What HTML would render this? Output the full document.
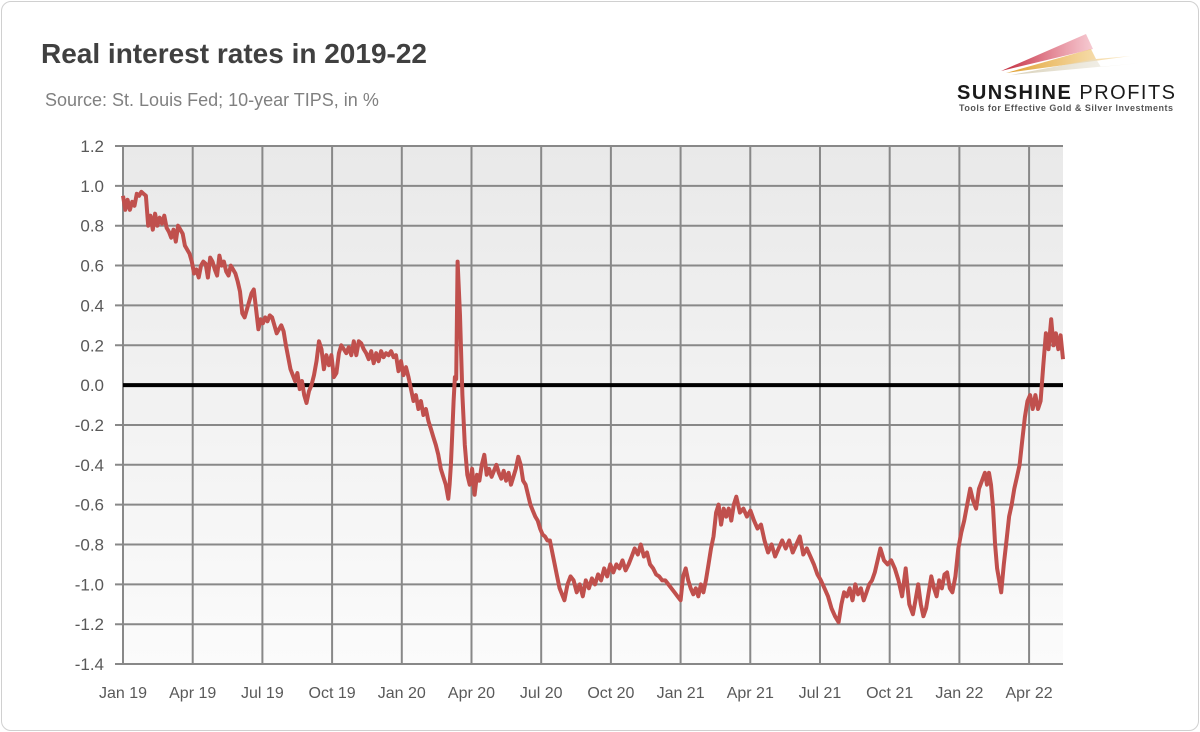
<!DOCTYPE html>
<html><head><meta charset="utf-8"><style>
body{margin:0;background:#fff;}
#card{position:absolute;left:1px;top:1px;width:1196px;height:728px;border:1px solid #d0d0d0;border-radius:10px;background:#fff;overflow:hidden;}
svg text{font-family:"Liberation Sans",sans-serif;}
</style></head><body>
<div id="card">
<svg id="chart" width="1200" height="732" style="position:absolute;left:-1px;top:-1px">
<defs><linearGradient id="bg" x1="0" y1="0" x2="0" y2="1"><stop offset="0" stop-color="#e9e9e9"/><stop offset="1" stop-color="#fbfbfb"/></linearGradient>
<linearGradient id="r1" x1="0" x2="1"><stop offset="0" stop-color="#c0283a"/><stop offset="1" stop-color="#e0506a" stop-opacity="0.3"/></linearGradient>
<linearGradient id="r2" x1="0" x2="1"><stop offset="0" stop-color="#e0a030"/><stop offset="1" stop-color="#f0c060" stop-opacity="0.3"/></linearGradient>
<linearGradient id="r3" x1="0" x2="1"><stop offset="0" stop-color="#d8d0b8"/><stop offset="1" stop-color="#e8e4d8" stop-opacity="0.3"/></linearGradient></defs>
<text x="40" y="62" font-size="28" font-weight="bold" fill="#404040">Real interest rates in 2019-22</text>
<text x="44" y="105" font-size="18" fill="#808080">Source: St. Louis Fed; 10-year TIPS, in %</text>
<g>
<polygon points="1000,70 1085,33 1092,48" fill="url(#r1)"/>
<polygon points="1005,72 1090,48 1095,58 1130,55" fill="url(#r2)"/>
<polygon points="1010,74 1095,58 1100,66 1140,62" fill="url(#r3)"/>
<text x="956" y="98" font-size="20" font-weight="bold" fill="#1a1a1a" textLength="218">SUNSHINE <tspan font-weight="normal">PROFITS</tspan></text>
<text x="958" y="110" font-size="9" font-weight="bold" fill="#555" textLength="214">Tools for Effective Gold &amp; Silver Investments</text>
</g>
<rect x="122" y="145" width="940" height="518" fill="url(#bg)"/>
<g id="grid"></g><g id="axes"></g><g id="series"></g>
</svg></div>
<script>
const yTicks = [1.2,1.0,0.8,0.6,0.4,0.2,0.0,-0.2,-0.4,-0.6,-0.8,-1.0,-1.2,-1.4];
const xTickLabels = ["Jan 19","Apr 19","Jul 19","Oct 19","Jan 20","Apr 20","Jul 20","Oct 20","Jan 21","Apr 21","Jul 21","Oct 21","Jan 22","Apr 22"];
const xTickMonths = [0,3,6,9,12,15,18,21,24,27,30,33,36,39];
const anchorIdx = [0,80,137,144,188,226,248,277,292,301,316,327,335,354,359];
const anchorMonths = [0,7.9,14.0,14.4,19.0,24.0,26.4,30.8,32.6,34.0,35.7,37.1,37.8,39.95,40.46];
const values = [
.95,.88,.93,.88,.92,.90,.96,.95,.97,.96,.95,
.80,.85,.78,.86,.80,.84,.81,.85,.79,.77,.74,.78,.72,.80,.78,.76,.70,.68,.66,.62,.56,.58,.54,.60,.62,.61,.54,.64,.62,.58,.55,.65,.60,.62,.57,.55,.60,.58,.56,.52,.47,.36,.34,.38,.42,.46,.48,.38,.28,.33,.31,.34,.32,.35,.34,.30,.26,.28,.30,.27,.20,.14,.08,.05,.02,.06,-.02,.02,-.05,-.09,
-.03,0,.05,.12,.22,.18,.08,.15,.10,.15,.04,.06,.16,.20,.18,.16,.19,.15,.22,.15,.22,.21,.18,.16,.13,.17,.11,.16,.12,.17,.14,.16,.15,.17,.14,.15,.07,.12,.05,.09,.04,-.02,-.08,-.05,-.12,-.08,-.15,-.12,-.18,-.22,-.26,-.30,-.35,-.42,-.46,-.50,-.57,
-.50,-.40,-.25,-.08,.04,.03,.62,.35,
-.05,-.30,-.45,-.50,-.42,-.55,-.45,-.48,-.40,-.35,-.45,-.42,-.46,-.43,-.40,-.44,-.47,-.43,-.48,-.44,-.50,-.46,-.42,-.36,-.40,-.48,-.50,-.55,-.60,-.63,-.66,-.68,-.72,-.75,-.76,-.78,-.78,-.84,-.90,-.96,-1.02,-1.05,-1.08,
-1.00,-.96,-.98,-1.04,-1.00,-1.06,-.98,-1.02,-.97,-1.00,-.95,-.98,-.92,-.96,-.90,-.94,-.90,-.92,-.88,-.93,-.90,-.86,-.82,-.85,-.80,-.86,-.84,-.90,-.92,-.95,-.96,-.98,-.98,-1.00,-1.02,-1.04,-1.06,-1.08,
-.96,-.92,-.98,-1.02,-1.05,-1.02,-1.06,-1.00,-1.04,-.98,-.90,-.82,-.76,-.64,-.60,-.70,-.62,-.66,-.62,-.68,-.60,-.56,
-.64,-.62,-.66,-.63,-.68,-.72,-.70,-.78,-.84,-.80,-.86,-.82,-.78,-.82,-.78,-.84,-.80,-.76,-.85,-.82,-.86,-.90,-.95,-.98,-1.02,-1.06,-1.12,-1.16,-1.19,
-1.10,-1.04,-1.06,-1.02,-1.08,-1.00,-1.05,-1.02,-1.08,-1.04,-1.00,-.98,-.94,-.88,-.82,
-.88,-.90,-.88,-.92,-.98,-1.06,-.92,-1.10,-1.15,
-1.08,-1.00,-1.10,-1.16,-1.12,-1.04,-.96,-1.02,-1.06,-.98,-1.02,-.95,-.94,-1.02,-1.04,
-.96,-.82,-.74,-.68,-.60,-.52,-.58,-.62,-.52,-.48,-.44,
-.50,-.44,-.50,-.62,-.80,-.92,-.98,-1.04,
-.90,-.78,-.66,-.60,-.52,-.46,-.40,-.28,-.16,-.08,-.05,-.12,-.05,-.12,-.08,.10,.26,.18,.33,
.20,.26,.18,.25,.13];
const X0=122,X1=1062,MMAX=40.46,YTOP=145,VTOP=1.2,PXPER=199.25;
const xs=m=>X0+(X1-X0)*m/MMAX, ys=v=>YTOP+(VTOP-v)*PXPER;
function monthAt(i){for(let k=0;k<anchorIdx.length-1;k++){const a=anchorIdx[k],b=anchorIdx[k+1];if(i<=b||k===anchorIdx.length-2){return anchorMonths[k]+(anchorMonths[k+1]-anchorMonths[k])*(i-a)/(b-a);}}}
const NS="http://www.w3.org/2000/svg";
function mk(t,a,p){const e=document.createElementNS(NS,t);for(const k in a)e.setAttribute(k,a[k]);p.appendChild(e);return e;}
const grid=document.getElementById('grid'),axes=document.getElementById('axes'),ser=document.getElementById('series');
yTicks.forEach(v=>{
 if(v!==0){const l=mk('line',{x1:X0-8,x2:X1,y1:ys(v),y2:ys(v),stroke:'#888',"stroke-width":2},grid);
 
 }
 const t=mk('text',{x:103,y:ys(v)+6,"font-size":17,fill:'#595959',"text-anchor":'end'},axes);t.textContent=v.toFixed(1);
 
 
});
xTickMonths.forEach((m,i)=>{
 if(i>0){const l=mk('line',{x1:xs(m),x2:xs(m),y1:YTOP,y2:ys(-1.4),stroke:'#888',"stroke-width":2},grid);
 
 }
 const t=mk('text',{x:xs(m),y:697,"font-size":16,fill:'#595959',"text-anchor":'middle'},axes);t.textContent=xTickLabels[i];
 
 
});
const ax=mk('line',{x1:X0,x2:X0,y1:YTOP,y2:ys(-1.4),stroke:'#888',"stroke-width":2},grid);


const zl=mk('line',{x1:X0,x2:X1,y1:ys(0),y2:ys(0),stroke:'#000',"stroke-width":4},ser);


const pts=values.map((v,i)=>xs(monthAt(i)).toFixed(1)+','+ys(v).toFixed(1)).join(' ');
const pl=mk('polyline',{points:pts,fill:'none',stroke:'#c0504d',"stroke-width":4,"stroke-linejoin":'round'},ser);


</script>
</body></html>
